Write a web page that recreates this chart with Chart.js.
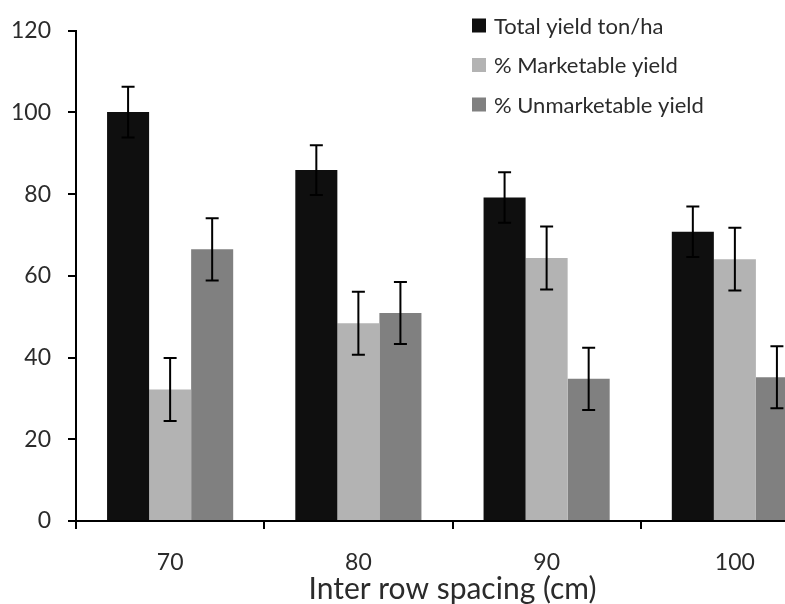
<!DOCTYPE html>
<html>
<head>
<meta charset="utf-8">
<script src="https://cdn.jsdelivr.net/npm/chart.js@4/dist/chart.umd.min.js"></script>
<style>
  html, body { margin: 0; padding: 0; background: #fff; overflow: hidden; }
  #wrap { width: 785px; height: 604px; overflow: hidden; }
  canvas { display: block; }
</style>
</head>
<body>
<div id="wrap"><canvas id="chart" width="840" height="604"></canvas></div>
<script>
'use strict';

// --- Data ---
const spacings = ['70', '80', '90', '100'];
const seriesNames = ['Total yield ton/ha', '% Marketable yield', '% Unmarketable yield'];
const totalYield = [100.1, 85.9, 79.2, 70.8];
const totalErr = [6.2, 6.1, 6.2, 6.2];
const marketable = [32.2, 48.4, 64.4, 64.1];
const marketableErr = [7.7, 7.7, 7.7, 7.7];
const unmarketable = [66.5, 50.9, 34.8, 35.2];
const unmarketableErr = [7.6, 7.6, 7.6, 7.6];
const yTicks = [0, 20, 40, 60, 80, 100, 120];

const barColors = ['#0f0f0f', '#b3b3b3', '#808080'];
const textColor = '#2b2b2b';
const fontFamily = 'Lato, sans-serif';

// --- Error bars plugin ---
const errorBarPlugin = {
  id: 'errorBars',
  afterDatasetsDraw(chart) {
    const ctx = chart.ctx;
    const yScale = chart.scales.y;
    chart.data.datasets.forEach((ds, i) => {
      const meta = chart.getDatasetMeta(i);
      meta.data.forEach((bar, j) => {
        const v = ds.data[j], e = ds.errors[j];
        const yTop = yScale.getPixelForValue(v + e);
        const yBot = yScale.getPixelForValue(v - e);
        ctx.save();
        ctx.strokeStyle = '#000';
        ctx.lineWidth = 2;
        ctx.beginPath();
        ctx.moveTo(bar.x, yTop); ctx.lineTo(bar.x, yBot);
        ctx.moveTo(bar.x - 6.5, yTop); ctx.lineTo(bar.x + 6.5, yTop);
        ctx.moveTo(bar.x - 6.5, yBot); ctx.lineTo(bar.x + 6.5, yBot);
        ctx.stroke();
        ctx.restore();
      });
    });
  }
};

// --- Legend plugin (inside plot, top right) ---
const legendPlugin = {
  id: 'boxLegend',
  afterDraw(chart) {
    const ctx = chart.ctx;
    ctx.save();
    ctx.font = '22px ' + fontFamily;
    ctx.textBaseline = 'middle';
    chart.data.datasets.forEach((ds, i) => {
      const cy = 25.5 + i * 39.5;
      ctx.fillStyle = ds.backgroundColor;
      ctx.fillRect(472, cy - 7, 14, 14);
      ctx.fillStyle = textColor;
      ctx.fillText(ds.label, 494, cy + 1);
    });
    ctx.restore();
  }
};

function setupChart() {
  const el = document.getElementById('chart');
  new Chart(el.getContext('2d'), {
    type: 'bar',
    data: {
      labels: spacings,
      datasets: [
        { label: seriesNames[0], data: totalYield, errors: totalErr, backgroundColor: barColors[0] },
        { label: seriesNames[1], data: marketable, errors: marketableErr, backgroundColor: barColors[1] },
        { label: seriesNames[2], data: unmarketable, errors: unmarketableErr, backgroundColor: barColors[2] }
      ]
    },
    options: {
      responsive: false,
      animation: false,
      categoryPercentage: 0.67,
      barPercentage: 1.0,
      layout: { padding: { left: 0, top: 21, right: 11, bottom: 0 } },
      plugins: { legend: { display: false }, tooltip: { enabled: false } },
      scales: {
        x: {
          grid: { drawOnChartArea: false, tickLength: 8, color: '#000', lineWidth: 2 },
          border: { display: true, color: '#000', width: 2 },
          ticks: { color: textColor, padding: 20, font: { family: fontFamily, size: 23 } },
          title: {
            display: true, text: 'Inter row spacing (cm)', color: textColor,
            padding: { top: 0, bottom: 0 },
            font: { family: fontFamily, size: 30, lineHeight: 1 }
          },
          afterFit(scale) { scale.height = 83; }
        },
        y: {
          min: 0, max: 120,
          afterBuildTicks(scale) { scale.ticks = yTicks.map(v => ({ value: v })); },
          grid: { drawOnChartArea: false, tickLength: 8, color: '#000', lineWidth: 2 },
          border: { display: true, color: '#000', width: 2 },
          ticks: { color: textColor, padding: 17, font: { family: fontFamily, size: 23 } },
          afterFit(scale) { scale.width = 76; }
        }
      }
    },
    plugins: [errorBarPlugin, legendPlugin]
  });
}

document.addEventListener('DOMContentLoaded', setupChart);
</script>
</body>
</html>
